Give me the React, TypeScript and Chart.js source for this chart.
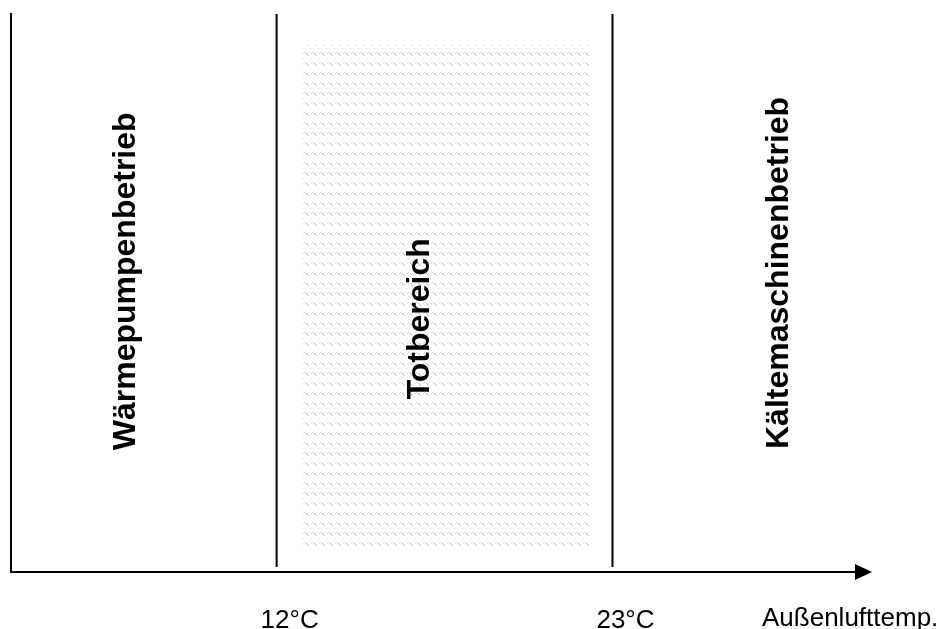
import React, { useEffect, useRef } from "react";
import { Chart, registerables } from "chart.js";

Chart.register(...registerables);

// ---- data ----
const thresholds = [12, 23];
const thresholdLabels = ["12°C", "23°C"];
const zoneLabels = ["Wärmepumpenbetrieb", "Totbereich", "Kältemaschinenbetrieb"];
const zoneLabelX = [7.35, 17.0, 28.75]; // baseline position of rotated labels (x units)
const zoneLabelY = [52.0, 45.3, 53.5]; // centre of rotated labels (y units)
const deadBandX = [12.8, 22.25];
const deadBandY = [3.9, 94.3];
const lineYRange = [0.9, 99.8];
const axisTitle = "Außenlufttemp.";

const X_MIN = 3.3;
const X_MAX = 31.5;
const FONT = "'Liberation Sans', Arial, Helvetica, sans-serif";

function makePattern(): CanvasPattern | string {
  const c = document.createElement("canvas");
  c.width = 8;
  c.height = 10;
  const g = c.getContext("2d");
  if (!g) return "#eee";
  g.fillStyle = "#ffffff";
  g.fillRect(0, 0, 8, 10);
  g.fillStyle = "rgba(150,150,150,0.75)";
  g.fillRect(2, 3, 1, 1);
  g.fillRect(3, 4, 1, 1);
  g.fillStyle = "rgba(170,170,170,0.55)";
  g.fillRect(4, 5, 1, 1);
  g.fillRect(0, 2, 1, 1);
  g.fillStyle = "rgba(190,190,190,0.5)";
  g.fillRect(6, 8, 1, 1);
  g.fillRect(7, 3, 1, 1);
  const p = g.createPattern(c, "repeat");
  return p || "#eee";
}

const overlayPlugin = {
  id: "overlay",
  afterDatasetsDraw(chart: any) {
    const { ctx, chartArea, scales } = chart;
    const xs = scales.x;
    const ys = scales.y;
    const left = chartArea.left;
    const bottom = chartArea.bottom;
    const top = chartArea.top;
    const right = chartArea.right;
    ctx.save();
    ctx.strokeStyle = "#000";
    ctx.fillStyle = "#000";
    ctx.lineWidth = 2;
    // y axis
    ctx.beginPath();
    ctx.moveTo(left, top);
    ctx.lineTo(left, bottom);
    ctx.stroke();
    // x axis with arrow
    ctx.beginPath();
    ctx.moveTo(left - 1, bottom);
    ctx.lineTo(right - 14, bottom);
    ctx.stroke();
    ctx.beginPath();
    ctx.moveTo(right - 17, bottom - 8);
    ctx.lineTo(right, bottom);
    ctx.lineTo(right - 17, bottom + 8);
    ctx.closePath();
    ctx.fill();

    // tick labels
    ctx.font = `26px ${FONT}`;
    ctx.textAlign = "center";
    ctx.textBaseline = "alphabetic";
    thresholds.forEach((t, i) => {
      ctx.fillText(thresholdLabels[i], xs.getPixelForValue(t) + 13, bottom + 56);
    });
    ctx.textAlign = "left";
    ctx.fillText(axisTitle, right - 110, bottom + 54);

    // rotated zone labels
    ctx.font = `bold 32px ${FONT}`;
    ctx.textAlign = "center";
    zoneLabels.forEach((lab, i) => {
      ctx.save();
      ctx.translate(xs.getPixelForValue(zoneLabelX[i]), ys.getPixelForValue(zoneLabelY[i]));
      ctx.rotate(-Math.PI / 2);
      ctx.fillText(lab, 0, 0);
      ctx.restore();
    });
    ctx.restore();
  },
};

export default function App() {
  const ref = useRef<HTMLCanvasElement | null>(null);
  useEffect(() => {
    document.body.style.margin = "0";
    document.body.style.overflow = "hidden";
    const canvas = ref.current;
    if (!canvas) return;
    const pattern = makePattern();
    const datasets: any[] = [
      {
        label: "Totbereich",
        data: [
          { x: deadBandX[0], y: deadBandY[1] },
          { x: deadBandX[1], y: deadBandY[1] },
        ],
        borderWidth: 0,
        borderColor: "rgba(0,0,0,0)",
        pointRadius: 0,
        backgroundColor: pattern,
        fill: { value: deadBandY[0] },
      },
      ...thresholds.map((t) => ({
        label: `${t}`,
        data: [
          { x: t, y: lineYRange[0] },
          { x: t, y: lineYRange[1] },
        ],
        borderColor: "#000",
        borderWidth: 2,
        pointRadius: 0,
        fill: false,
      })),
    ];
    const chart = new Chart(canvas, {
      type: "line",
      data: { datasets },
      options: {
        animation: false,
        responsive: false,
        maintainAspectRatio: false,
        devicePixelRatio: 1,
        layout: { padding: { left: 11, right: 69, top: 13, bottom: 57 } },
        plugins: { legend: { display: false }, tooltip: { enabled: false } },
        scales: {
          x: { type: "linear", min: X_MIN, max: X_MAX, display: false },
          y: { type: "linear", min: 0, max: 100, display: false },
        },
      } as any,
      plugins: [overlayPlugin],
    });
    return () => chart.destroy();
  }, []);
  return (
    <div style={{ width: 941, height: 629, background: "#fff" }}>
      <canvas ref={ref} width={941} height={629} style={{ display: "block", width: 941, height: 629 }} />
    </div>
  );
}
